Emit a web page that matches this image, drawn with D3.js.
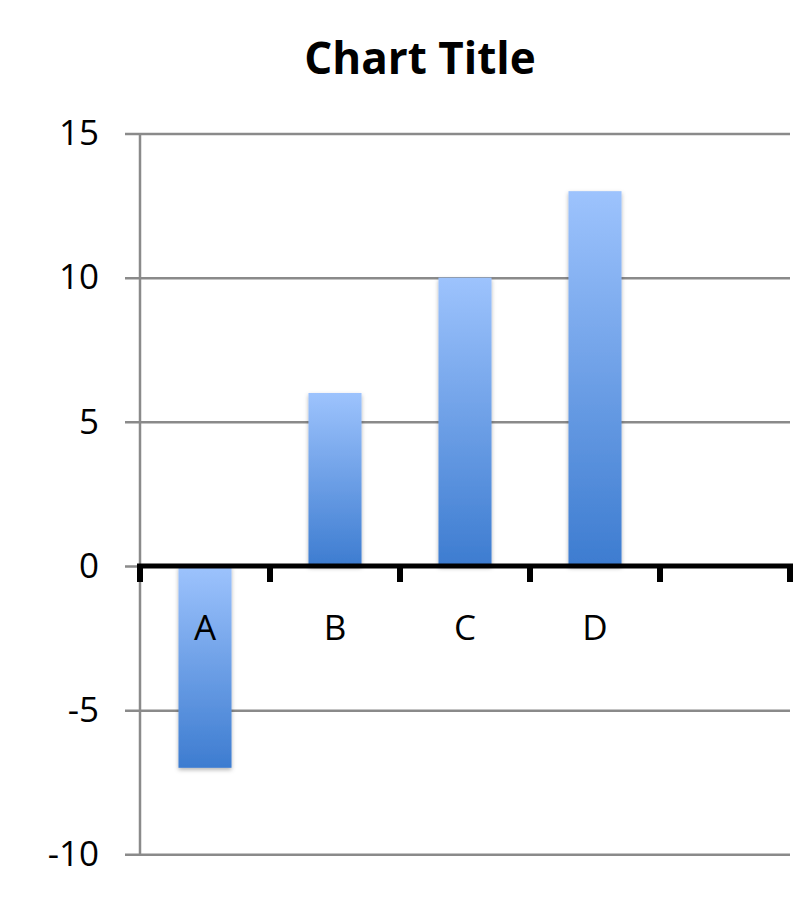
<!DOCTYPE html>
<html><head><meta charset="utf-8">
<script src="https://cdn.jsdelivr.net/npm/d3@7"></script>
<style>body{margin:0;background:#fff}svg{display:block}</style>
</head><body>
<script>
const categories = ["A","B","C","D",""];
const values = [-7, 6, 10, 13, null];
const yTicks = [15, 10, 5, 0, -5, -10];
const title = "Chart Title";

const W = 804, H = 899;
const svg = d3.select("body").append("svg").attr("width", W).attr("height", H);
const defs = svg.append("defs");
const grad = defs.append("linearGradient").attr("id","barGrad")
  .attr("x1",0).attr("y1",0).attr("x2",0).attr("y2",1);
grad.append("stop").attr("offset","0%").attr("stop-color","#9dc3fd");
grad.append("stop").attr("offset","100%").attr("stop-color","#3d7cd0");
const f = defs.append("filter").attr("id","shadow").attr("x","-20%").attr("y","-5%").attr("width","140%").attr("height","115%");
f.append("feDropShadow").attr("dx",0).attr("dy",2).attr("stdDeviation",2).attr("flood-color","#000").attr("flood-opacity",0.3);

const y = d3.scaleLinear().domain([-10, 15]).range([854.3, 133.5]);
const x = d3.scaleBand().domain(categories).range([140, 790]).paddingInner(0.592).paddingOuter(0.296);

// title
svg.append("text").attr("x", 420).attr("y", 74).attr("text-anchor","middle")
  .attr("font-family","'Open Sans', sans-serif").attr("font-weight","bold")
  .attr("font-size", 44).attr("fill","#000").text(title);

// gridlines + y labels
const gy = svg.append("g").attr("transform","translate(125,0)")
  .call(d3.axisLeft(y).tickValues(yTicks).tickSize(-665).tickPadding(26).tickFormat(d => String(d)));
gy.select(".domain").remove();
gy.selectAll(".tick line").attr("stroke","#8a8a8a").attr("stroke-width",2.5);
gy.selectAll(".tick text").attr("font-family","'Open Sans', sans-serif").attr("font-size",35).attr("fill","#000");

// y axis line
svg.append("line").attr("x1",140).attr("x2",140).attr("y1",y(15)).attr("y2",y(-10))
  .attr("stroke","#8a8a8a").attr("stroke-width",2.5);

// bars
svg.append("g").selectAll("rect").data(categories.map((c,i)=>({c, v: values[i]})).filter(d=>d.v!==null))
  .join("rect")
  .attr("x", d=>x(d.c)).attr("width", x.bandwidth())
  .attr("y", d=>y(Math.max(0,d.v))).attr("height", d=>Math.abs(y(d.v)-y(0)))
  .attr("fill","url(#barGrad)").attr("filter","url(#shadow)");

// x axis (zero line)
const y0 = y(0);
svg.append("line").attr("x1",137).attr("x2",793).attr("y1",y0).attr("y2",y0)
  .attr("stroke","#000").attr("stroke-width",5);
const bounds = d3.range(categories.length+1).map(i => x.range()[0] + i*x.step());
svg.append("g").selectAll("line").data(bounds).join("line")
  .attr("x1",d=>d).attr("x2",d=>d).attr("y1",y0).attr("y2",y0+16)
  .attr("stroke","#000").attr("stroke-width",6);

// category labels
svg.append("g").selectAll("text").data(categories).join("text")
  .attr("x", d=>x(d)+x.bandwidth()/2).attr("y", 640).attr("text-anchor","middle")
  .attr("font-family","'Open Sans', sans-serif").attr("font-size",35).attr("fill","#000")
  .text(d=>d);
</script>
</body></html>
